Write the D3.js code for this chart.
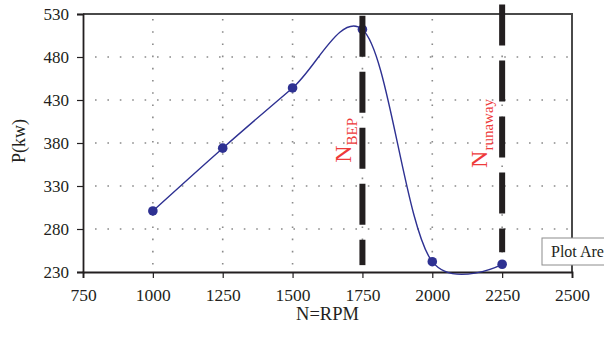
<!DOCTYPE html>
<html>
<head>
<meta charset="utf-8">
<script src="https://cdn.jsdelivr.net/npm/d3@7"></script>
<style>
  body { margin: 0; background: #fff; }
  svg text { font-family: "Liberation Serif", "DejaVu Serif", serif; fill: #231f20; }
</style>
</head>
<body>
<div id="chart"></div>
<script>
// data
const rpm = [1000, 1250, 1500, 1750, 2000, 2250];
const power = [301, 374, 444, 512, 242, 239];

const xTicks = [750, 1000, 1250, 1500, 1750, 2000, 2250, 2500];
const yTicks = [230, 280, 330, 380, 430, 480, 530];

// vertical marker lines (N_BEP, N_runaway)
const markerRpm = [1750, 2250];
const markerTop = [528, 541];
const markerBottom = [238, 253];
const markerMain = ["N", "N"];
const markerSub = ["BEP", "runaway"];
const markerLabelAt = [357, 351];

const width = 604, height = 339;
const margin = { top: 14, right: 32, bottom: 67, left: 83 };
const contentWidth = width - margin.left - margin.right;
const contentHeight = height - margin.top - margin.bottom;

const svg = d3.select("#chart").append("svg")
  .attr("width", width)
  .attr("height", height);

const g = svg.append("g")
  .attr("transform", "translate(" + margin.left + "," + margin.top + ")");

const x = d3.scaleLinear().domain([750, 2500]).range([0, contentWidth]);
const y = d3.scaleLinear().domain([230, 530]).range([contentHeight, 0]);

// dotted grid
g.append("g").selectAll("line")
  .data(yTicks.slice(1, -1))
  .join("line")
  .attr("x1", 12).attr("x2", contentWidth)
  .attr("y1", d => y(d)).attr("y2", d => y(d))
  .attr("stroke", "#8a8a8a")
  .attr("stroke-width", 1.6)
  .attr("stroke-dasharray", "1.6,10.8");

g.append("g").selectAll("line")
  .data(xTicks.slice(1, -1))
  .join("line")
  .attr("x1", d => x(d)).attr("x2", d => x(d))
  .attr("y1", 5).attr("y2", contentHeight)
  .attr("stroke", "#8a8a8a")
  .attr("stroke-width", 1.6)
  .attr("stroke-dasharray", "1.6,10.6");

// frame: top and right
g.append("path")
  .attr("d", "M0,0H" + contentWidth + "V" + contentHeight)
  .attr("fill", "none")
  .attr("stroke", "#4a4a4a")
  .attr("stroke-width", 2);

// axes
const xAxis = g.append("g")
  .attr("transform", "translate(0," + contentHeight + ")")
  .call(d3.axisBottom(x).tickValues(xTicks).tickSize(6).tickPadding(11).tickFormat(d3.format("d")));
const yAxis = g.append("g")
  .call(d3.axisLeft(y).tickValues(yTicks).tickSize(6).tickPadding(8).tickFormat(d3.format("d")));

[xAxis, yAxis].forEach(a => {
  a.select(".domain").attr("stroke", "#231f20").attr("stroke-width", 1.8);
  a.selectAll(".tick line").attr("stroke", "#231f20").attr("stroke-width", 1.2);
  a.selectAll("text").attr("font-size", 18).attr("font-family", "Liberation Serif").attr("fill", "#231f20");
});
yAxis.selectAll("text").attr("font-size", 17);
xAxis.selectAll("text").attr("font-size", 17.5);

// data line + markers
const line = d3.line()
  .x((d, i) => x(rpm[i]))
  .y(d => y(d))
  .curve(d3.curveCatmullRom.alpha(0.2));

g.append("path")
  .datum(power)
  .attr("d", line)
  .attr("fill", "none")
  .attr("stroke", "#2e3192")
  .attr("stroke-width", 1.4);

g.append("g").selectAll("circle")
  .data(power)
  .join("circle")
  .attr("cx", (d, i) => x(rpm[i]))
  .attr("cy", d => y(d))
  .attr("r", 4.8)
  .attr("fill", "#2e3192");

// dashed marker lines drawn over the series
g.append("g").selectAll("line")
  .data(markerRpm)
  .join("line")
  .attr("x1", d => x(d)).attr("x2", d => x(d))
  .attr("y1", (d, i) => y(markerTop[i]))
  .attr("y2", (d, i) => y(markerBottom[i]))
  .attr("stroke", "#231f20")
  .attr("stroke-width", 6)
  .attr("stroke-dasharray", "41,15");

// rotated red labels
markerRpm.forEach((d, i) => {
  const t = g.append("text")
    .attr("transform", "translate(" + (x(d) - (i === 0 ? 11 : 15)) + "," + y(markerLabelAt[i]) + ") rotate(-90)")
    .style("fill", "#ee3a3a");
  t.append("tspan").attr("font-size", 24).text(markerMain[i]);
  t.append("tspan").attr("font-size", 15).attr("dy", 6).text(markerSub[i]);
});

// axis titles
g.append("text")
  .attr("x", contentWidth / 2)
  .attr("y", contentHeight + 48)
  .attr("text-anchor", "middle")
  .attr("font-size", 18.5)
  .text("N=RPM");

g.append("text")
  .attr("transform", "translate(" + (25 - margin.left) + "," + (141 - margin.top) + ") rotate(-90)")
  .attr("text-anchor", "middle")
  .attr("font-size", 18)
  .text("P(kw)");

// Excel "Plot Area" tooltip left in the picture
const tip = g.append("g").attr("transform", "translate(" + (contentWidth - 30) + "," + (contentHeight - 34) + ")");
tip.append("rect")
  .attr("width", 80).attr("height", 27)
  .attr("fill", "#fff")
  .attr("stroke", "#8c8c8c")
  .attr("stroke-width", 1);
tip.append("text")
  .attr("x", 9).attr("y", 19)
  .attr("font-size", 16)
  .text("Plot Area");
</script>
</body>
</html>
